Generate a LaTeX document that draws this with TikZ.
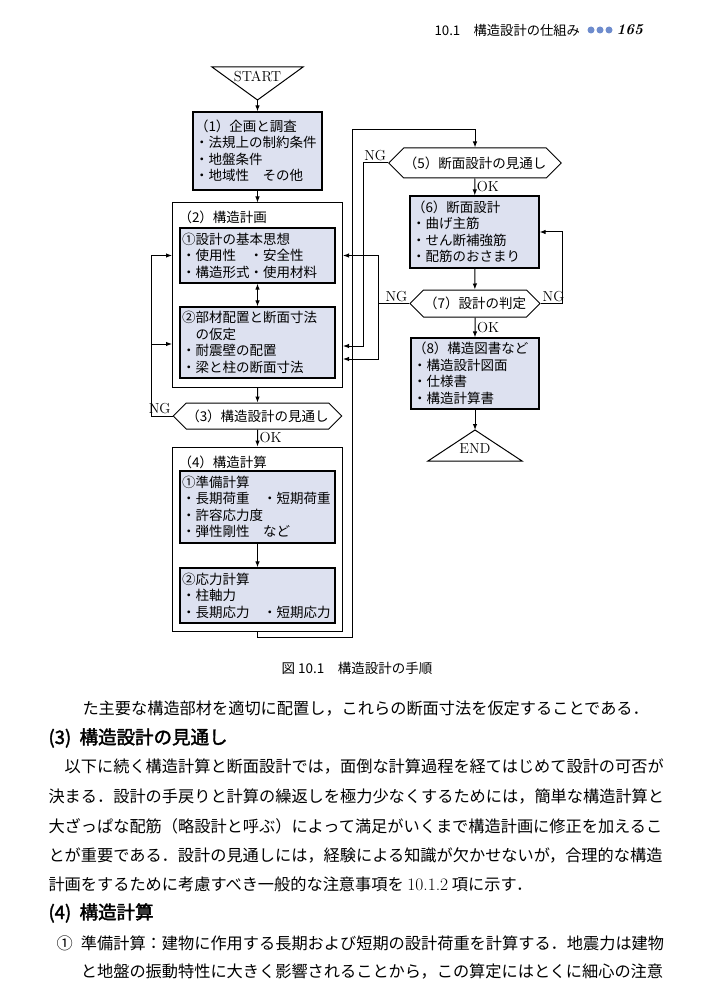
\documentclass[tikz,border=0pt]{standalone}
\usepackage{fontspec}
\newfontfamily\jp{Noto Sans CJK JP}
\newfontfamily\jpbold[FakeBold=2]{Noto Sans CJK JP}
\usetikzlibrary{arrows.meta,shapes.symbols}
\definecolor{boxblue}{RGB}{221,225,240}
\definecolor{dotblue}{RGB}{110,140,205}

\begin{document}
\begin{tikzpicture}[x=1pt,y=-1pt,line width=1pt,>={Latex[length=6pt,width=4.5pt]},
	flowtext/.style={font=\jp\fontsize{13.5}{16.5}\selectfont},
	bodytext/.style={anchor=west,inner sep=0pt,font=\jp\fontsize{16.2}{20}\selectfont},
	headtext/.style={anchor=west,inner sep=0pt,font=\jpbold\fontsize{18.5}{22}\selectfont},
	labeltext/.style={inner sep=1.5pt,font=\rmfamily\fontsize{14.5}{16}\selectfont},
	fillbox/.style={draw,fill=boxblue,line width=1.2pt,inner xsep=2pt,inner ysep=0pt,align=left,flowtext},
	outerbox/.style={draw,line width=1pt},
	checkbox/.style={draw,fill=white,signal,signal to=west and east,signal pointer angle=90,inner sep=0pt,flowtext}]
	\useasboundingbox (0,0) rectangle (712,1000);
	
	%running head
	\node[anchor=west,inner sep=0pt,font=\jp\fontsize{13.3}{16}\selectfont] (runhead) at (434,30) {10.1　構造設計の仕組み};
	\fill[dotblue] (591,30) circle (3.5); %dot 1
	\fill[dotblue] (600,30) circle (3.5); %dot 2
	\fill[dotblue] (609,30) circle (3.5); %dot 3
	\node[anchor=west,inner sep=0pt,font=\rmfamily\bfseries\itshape\fontsize{15}{18}\selectfont] (pageno) at (616,30) {165}; %page number
	
	%START and (1)----------------------------------------------
	\coordinate (startapex) at (257.5,100);
	\draw[fill=white] (212,67) -- (303,67) -- (startapex) -- cycle; %start triangle
	\node[labeltext] (start) at (257.5,76) {START};
	\node[fillbox,text width=125,minimum height=78] (b1) at (257.5,151) {（1）企画と調査\\・法規上の制約条件\\・地盤条件\\・地域性　その他};
	\draw[->] (startapex) -- (b1);
	
	%(2) structure plan
	\node[outerbox,minimum width=170,minimum height=184] (plan) at (257.5,295) {};
	\node[anchor=west,inner sep=0pt,flowtext] (plantitle) at (178,217) {（2）構造計画};
	\node[fillbox,text width=151,minimum height=55] (pb1) at (257.5,255.5) {①設計の基本思想\\・使用性　・安全性\\・構造形式・使用材料};
	\node[fillbox,text width=151,minimum height=71] (pb2) at (257.5,342.5) {②部材配置と断面寸法\\\hspace{1em}の仮定\\・耐震壁の配置\\・梁と柱の断面寸法};
	\draw[->] (b1) -- (plan);
	\draw[<->] (pb1) -- (pb2);
	
	%(3) check
	\node[checkbox,minimum width=167,minimum height=26] (chk3) at (257.5,416) {（3）構造設計の見通し};
	\draw[->] (plan) -- (chk3);
	\coordinate (ng3top) at (151,255.5);
	\coordinate (ng3mid) at (151,344);
	\draw[->] (chk3.west) node[labeltext,anchor=south east] (ng3) {NG} -| (ng3top) -- (plan.west |- ng3top); %NG back to plan
	\draw[->] (ng3mid) -- (plan.west |- ng3mid);
	
	%(4) structural calculation
	\node[outerbox,minimum width=170,minimum height=184] (calc) at (257.5,539) {};
	\node[anchor=west,inner sep=0pt,flowtext] (calctitle) at (178,462) {（4）構造計算};
	\node[fillbox,text width=151,minimum height=72] (c1) at (257.5,507) {①準備計算\\・長期荷重　・短期荷重\\・許容応力度\\・弾性剛性　など};
	\node[fillbox,text width=151,minimum height=55] (c2) at (257.5,595.5) {②応力計算\\・柱軸力\\・長期応力　・短期応力};
	\draw[->] (chk3) -- node[labeltext,right] (ok3) {OK} (calc);
	\draw[->] (c1) -- (c2);
	
	%loop up to (5)
	\coordinate (loopbot) at (352,637);
	\coordinate (looptop) at (352,130);
	
	%(5)-(8)-----------------------------------------------------
	\node[checkbox,minimum width=166,minimum height=30] (chk5) at (475,163) {（5）断面設計の見通し};
	\node[fillbox,text width=125,minimum height=72] (sec6) at (474.5,232) {（6）断面設計\\・曲げ主筋\\・せん断補強筋\\・配筋のおさまり};
	\node[checkbox,minimum width=130,minimum height=27] (chk7) at (475,303.5) {（7）設計の判定};
	\node[fillbox,text width=124,minimum height=71] (doc8) at (475,373.5) {（8）構造図書など\\・構造設計図面\\・仕様書\\・構造計算書};
	\coordinate (endapex) at (475,430);
	\draw[fill=white] (endapex) -- (522,461) -- (428,461) -- cycle; %end triangle
	\node[labeltext] (end) at (475,449) {END};
	
	\draw[->] (calc.south) |- (loopbot) -- (looptop) -| (chk5.north); %loop
	\draw[->] (chk5) -- node[labeltext,right] (ok5) {OK} (sec6);
	\draw[->] (sec6) -- (chk7);
	\draw[->] (chk7) -- node[labeltext,right] (ok7) {OK} (doc8);
	\draw[->] (doc8) -- (endapex);
	
		%NG returns
		\coordinate (ng5bot) at (363,346);
		\draw[->] (chk5.west) node[labeltext,anchor=south east] (ng5) {NG} -| (ng5bot) -- (plan.east |- ng5bot); %NG of (5)
		\coordinate (ng7top) at (378,255.5);
		\coordinate (ng7bot) at (378,359);
		\draw[->] (chk7.west) node[labeltext,anchor=south east] (ng7l) {NG} -| (ng7top) -- (plan.east |- ng7top); %NG of (7) to plan
		\draw[->] (chk7.west -| ng7top) |- (plan.east |- ng7bot);
		\draw[->] (chk7.east) node[labeltext,anchor=south west] (ng7r) {NG} -- ++(22,0) |- (sec6.east); %NG of (7) to (6)
	
	%caption
	\node[font=\jp\fontsize{13.5}{16}\selectfont] (caption) at (357,668) {図 10.1　構造設計の手順};
	
	%body text
	\node[bodytext] (line1) at (82,709) {た主要な構造部材を適切に配置し，これらの断面寸法を仮定することである．};
	\node[headtext] (head3) at (48,738) {(3)\hspace{0.45em}構造設計の見通し};
	\node[bodytext] (line2) at (64.2,767) {以下に続く構造計算と断面設計では，面倒な計算過程を経てはじめて設計の可否が};
	\node[bodytext] (line3) at (48,797) {決まる．設計の手戻りと計算の繰返しを極力少なくするためには，簡単な構造計算と};
	\node[bodytext] (line4) at (48,826) {大ざっぱな配筋（略設計と呼ぶ）によって満足がいくまで構造計画に修正を加えるこ};
	\node[bodytext] (line5) at (48,855) {とが重要である．設計の見通しには，経験による知識が欠かせないが，合理的な構造};
	\node[bodytext] (line6) at (48,884) {計画をするために考慮すべき一般的な注意事項を {\rmfamily\fontsize{17.5}{20}\selectfont 10.1.2} 項に示す．};
	\node[headtext] (head4) at (48,913) {(4)\hspace{0.45em}構造計算};
	\node[bodytext] (item1) at (56,943) {①};
	\node[bodytext] (line7) at (80.4,943) {準備計算：建物に作用する長期および短期の設計荷重を計算する．地震力は建物};
	\node[bodytext] (line8) at (80.4,972) {と地盤の振動特性に大きく影響されることから，この算定にはとくに細心の注意};
	
\end{tikzpicture}
\end{document}
